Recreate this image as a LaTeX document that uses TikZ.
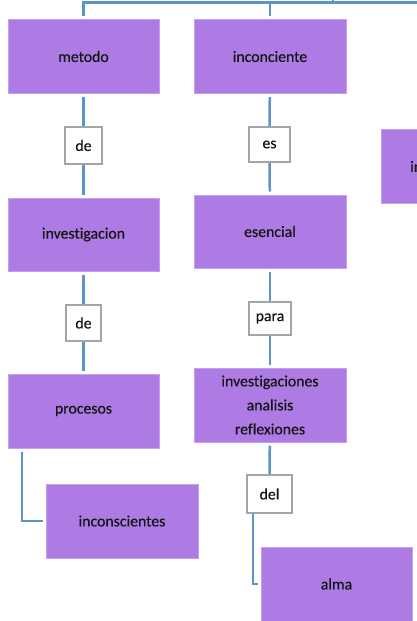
\documentclass[tikz,border=0pt]{standalone}
\usepackage{fontspec}
\setmainfont[Ligatures=NoCommon,FakeBold=0.3]{Carlito}
\definecolor{boxpurple}{HTML}{AE7BE4}
\definecolor{boxedge}{HTML}{C2A0EE}
\definecolor{linkblue}{HTML}{5B93CC}
\definecolor{labelgray}{HTML}{A5A5A5}
\definecolor{txt}{HTML}{141414}
\tikzset{
  x=1pt,y=-1pt,
  concept/.style={rectangle, fill=boxpurple, draw=boxedge, line width=0.6pt,
    minimum width=151pt, minimum height=74pt, inner sep=0pt, outer sep=3.5pt,
    text=txt, align=center, font={\fontsize{15.8}{24}\selectfont}},
  linkbox/.style={rectangle, fill=white, draw=labelgray, line width=2.4pt,
    inner sep=0pt, text=txt, font={\fontsize{15.8}{18}\selectfont}},
  conn/.style={draw=linkblue, line width=2.5pt},
}
\begin{document}
\begin{tikzpicture}
\clip (0,0) rectangle (417,621);
\useasboundingbox (0,0) rectangle (417,621);
\fill[white] (0,0) rectangle (417,621);

% concept boxes
\node[concept] (metodo) at (83.5,56.5) {metodo};
\node[concept, minimum width=152pt] (inconciente) at (270,56.5) {inconciente};
\node[concept, minimum height=73pt] (investigacion) at (83.5,234.5) {investigacion};
\node[concept, minimum width=152pt, minimum height=73pt] (esencial) at (270,231.5) {esencial};
\node[concept] (procesos) at (83.5,411) {procesos};
\node[concept, minimum width=152pt] (investigaciones) at (270,405) {investigaciones\\analisis\\reflexiones};
\node[concept, minimum width=152pt] (inconscientes) at (122,521) {inconscientes};
\node[concept] (alma) at (336.5,584) {alma};
\node[concept] (rightbox) at (456.5,166) {};
\node[anchor=west, inner sep=0pt, text=txt, font={\fontsize{15.8}{18}\selectfont}] (rightlabel) at (410,166.5) {in};

% link boxes
\node[linkbox, minimum width=37pt, minimum height=37pt] (de1) at (83.5,145.5) {de};
\node[linkbox, minimum width=41pt, minimum height=35pt] (es) at (269.5,144.5) {es};
\node[linkbox, minimum width=35pt, minimum height=36pt] (de2) at (83.5,323) {de};
\node[linkbox, minimum width=42pt, minimum height=33pt] (para) at (270,318.5) {para};
\node[linkbox, minimum width=45pt, minimum height=38pt] (del) at (269.5,494) {del};

% top connector
\coordinate (topright) at (430,2.5);
\coordinate (tick) at (333,-4);
\draw[conn] (metodo.north) |- (topright);
\draw[conn] (inconciente.north) -- (inconciente.north |- topright);
\draw[conn] (tick) -- (tick |- topright);

% vertical chains
\draw[conn] (metodo) -- (de1);
\draw[conn] (de1) -- (investigacion);
\draw[conn] (investigacion) -- (de2);
\draw[conn] (de2) -- (procesos);
\draw[conn] (inconciente) -- (es);
\draw[conn] (es) -- (esencial);
\draw[conn] (esencial) -- (para);
\draw[conn] (para) -- (investigaciones);
\draw[conn] (investigaciones) -- (del);

% elbow connectors
\draw[conn] ([xshift=17.5pt]procesos.south west) |- (inconscientes.west);
\draw[conn] ([xshift=7.25pt]del.south west) |- (alma.west);
\end{tikzpicture}
\end{document}
